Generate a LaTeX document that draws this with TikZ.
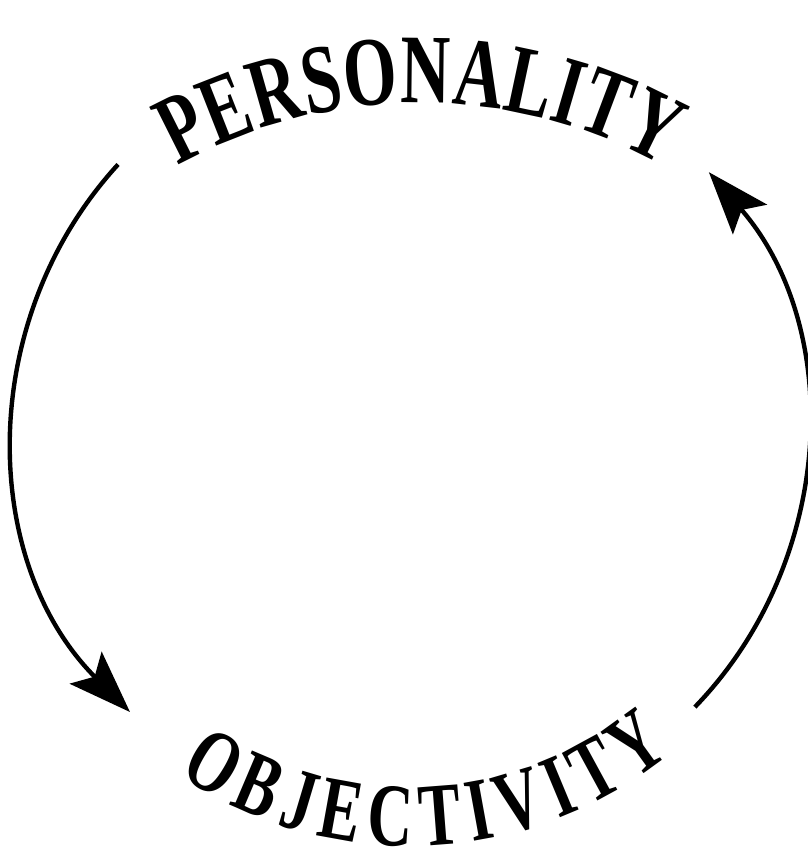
\documentclass[tikz,border=0pt]{standalone}
\usepackage{fontspec}
\newfontfamily\signfont[FakeStretch=0.7]{Liberation Serif}
\usetikzlibrary{arrows.meta,decorations.text}

\tikzset{
  cycle arc/.style={line width=2.5pt, -{Stealth[length=1.25cm,width=0.9cm,inset=0.25cm]}},
  arched word/.style 2 args={decorate, decoration={text along path, text align=fit to path,
      text={|\signfont\bfseries\fontsize{#1}{#1}\selectfont|#2}}}
}

\begin{document}
\begin{tikzpicture}[x=0.02cm, y=0.02cm]
  \useasboundingbox (-410,-432) rectangle (397,432);

  % ends of the two arcs
  \coordinate (pl) at (137.5:396);
  \coordinate (ol) at (225:396);
  \coordinate (or) at (-44:396);
  \coordinate (pr) at (41:396);

  % the two arcs
  \draw[cycle arc] (pl) arc[start angle=137.5, end angle=225, radius=396];
  \draw[cycle arc] (or) arc[start angle=-44, end angle=41, radius=396];

  % the two words
  \path[arched word={56}{PERSONALITY}] ([shift={(10,-171)}]119:500) arc[start angle=119, end angle=61, radius=500];
  \path[arched word={51}{OBJECTIVITY}] (236:414) arc[start angle=236, end angle=309, radius=414];
\end{tikzpicture}
\end{document}
